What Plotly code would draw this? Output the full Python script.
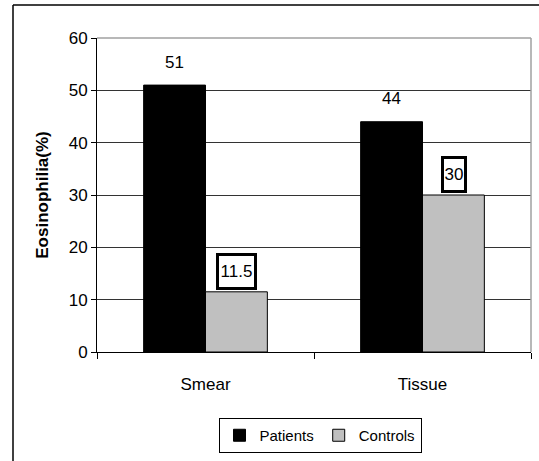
import plotly.graph_objects as go

categories = ["Smear", "Tissue"]
patients = [51, 44]
controls = [11.5, 30]
y_ticks = [0, 10, 20, 30, 40, 50, 60]

W, H = 539, 461
L, R, T, B = 97, 8, 38, 109
pw, ph = W - L - R, H - T - B

font_family = "Liberation Sans, Arial, sans-serif"


def px_x(x):
    return (x - L) / pw


def px_y(y):
    return (H - B - y) / ph


fig = go.Figure()
fig.add_trace(go.Bar(name="Patients", x=categories, y=patients,
                     marker=dict(color="#000000", line=dict(color="#000000", width=1))))
fig.add_trace(go.Bar(name="Controls", x=categories, y=controls,
                     marker=dict(color="#C0C0C0", line=dict(color="#000000", width=1))))

for c, v in zip(categories, patients):
    fig.add_annotation(x=c, y=v, xshift=-31, yshift=23, text=str(v), showarrow=False,
                       font=dict(size=17, color="#000000"), yanchor="middle")
for c, v in zip(categories, controls):
    fig.add_annotation(x=c, y=v, xshift=31, yshift=2, text=str(v), showarrow=False,
                       font=dict(size=17, color="#000000"), yanchor="bottom",
                       width=35 if len(str(v)) > 2 else 20, height=31,
                       bgcolor="#FFFFFF", bordercolor="#000000", borderwidth=3, borderpad=0)

# outer chart border (right/bottom cut off in the picture)
fig.add_shape(type="line", xref="paper", yref="paper",
              x0=px_x(13), x1=px_x(W + 10), y0=px_y(5), y1=px_y(5),
              line=dict(color="#000000", width=1.5))
fig.add_shape(type="line", xref="paper", yref="paper",
              x0=px_x(13), x1=px_x(13), y0=px_y(5), y1=px_y(H + 10),
              line=dict(color="#000000", width=1.5))
# plot-area top/right gray border
fig.add_shape(type="line", xref="paper", yref="paper", x0=0, x1=1, y0=1, y1=1,
              line=dict(color="#A0A0A0", width=1.5))
fig.add_shape(type="line", xref="paper", yref="paper", x0=1, x1=1, y0=0, y1=1,
              line=dict(color="#A0A0A0", width=1.5))

fig.update_layout(
    width=W, height=H,
    margin=dict(l=L, r=R, t=T, b=B, autoexpand=False),
    paper_bgcolor="#FFFFFF", plot_bgcolor="#FFFFFF",
    font=dict(family=font_family, size=17, color="#000000"),
    barmode="group", bargap=0.43, bargroupgap=0,
    showlegend=True,
    legend=dict(orientation="h", x=px_x(320), xanchor="center",
                y=px_y(418), yanchor="top",
                bordercolor="#000000", borderwidth=1, bgcolor="#FFFFFF",
                font=dict(size=15), itemwidth=30, tracegroupgap=0),
    xaxis=dict(showline=True, linecolor="#000000", linewidth=1,
               ticks="outside", tickson="boundaries", ticklen=6, tickcolor="#000000",
               ticklabelstandoff=17, showgrid=False, automargin=False),
    yaxis=dict(range=[0, 60], tickvals=y_ticks, showline=True, linecolor="#000000",
               linewidth=1, ticks="outside", ticklen=5, tickcolor="#000000",
               showgrid=True, gridcolor="#333333", gridwidth=1, zeroline=False,
               automargin=False,
               title=dict(text="<b>Eosinophilia(%)</b>", font=dict(size=17), standoff=15)),
)

fig.write_html("out.html", config={"displayModeBar": False},
               post_script="document.body.style.margin='0px';")
